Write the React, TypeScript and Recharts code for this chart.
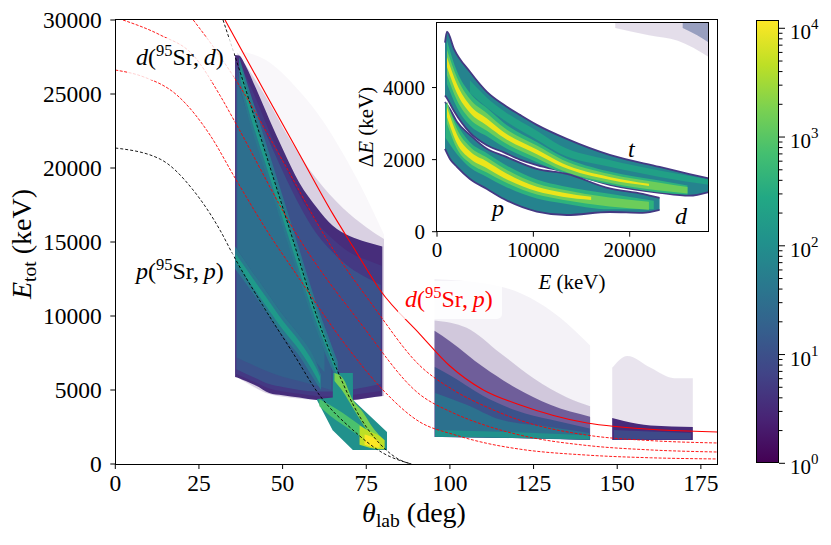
import React from 'react';
import { ComposedChart, Area, Line, XAxis, YAxis } from 'recharts';

const FONT = '"Liberation Serif", "Times New Roman", serif';

// ---------- axis ticks ----------
const thetaTicks = [0, 25, 50, 75, 100, 125, 150, 175];
const energyTicks = [0, 5000, 10000, 15000, 20000, 25000, 30000];
const insetETicks = [0, 10000, 20000];
const insetDETicks = [0, 2000, 4000];
const cbMajor = [1, 10, 100, 1000, 10000];
const cbTicks = [1, 2, 3, 4, 5, 6, 7, 8, 9, 10, 20, 30, 40, 50, 60, 70, 80, 90, 100, 200, 300, 400, 500, 600, 700, 800, 900, 1000, 2000, 3000, 4000, 5000, 6000, 7000, 8000, 9000, 10000];
const cbDomain = [1, 11920];

// ---------- main histogram regions: [theta (deg), E low (keV), E high (keV)] ----------
const wedgeFar = [[37, 5800, 27900], [45, 4800, 27300], [55, 4500, 25200], [62, 4300, 23200], [68, 4200, 21000], [74, 4400, 18500], [80.3, 4600, 15500]];
const wedgeNear = [[36.5, 5850, 27800], [40, 5400, 26600], [45, 4800, 24800], [52, 4500, 22000], [60, 4320, 19300], [68, 4200, 17300], [75, 4450, 16000], [80.3, 4600, 15200]];
const wedgeOuter = [[35.8, 5880, 27640], [37, 5800, 27600], [39, 5600, 26900], [42, 5300, 25400], [46, 4800, 23300], [50, 4650, 21300], [55, 4500, 19000], [60.3, 4320, 17300], [65, 4250, 16100], [70, 4300, 15400], [75, 4450, 15000], [79.8, 4600, 14700]];
const wedgeMid = [[36, 6100, 27200], [39, 5800, 26200], [42, 5500, 24700], [46, 5100, 22500], [50, 4900, 20500], [55, 4750, 18200], [60, 4600, 16400], [65, 4550, 15200], [70, 4650, 14300], [75, 4800, 13800], [79.6, 4950, 13400]];
const wedgeBody = [[36.2, 6400, 26900], [39, 6100, 25600], [42, 5800, 24000], [46, 5400, 21800], [50, 5200, 19800], [55, 5000, 17500], [60, 4900, 15600], [65, 4900, 14300], [70, 5000, 13300], [75, 5200, 12600], [79.3, 5400, 12100]];
const wedgeInner = [[36.3, 7200, 26300], [40, 6800, 24000], [45, 6300, 20600], [50, 5900, 17400], [55, 5600, 14100], [60, 5300, 10900], [64.5, 5000, 8100]];
const wedgeCentre = [[36.5, 14500, 25800], [40, 13300, 23300], [45, 11700, 19700], [50, 10100, 16100], [55, 8700, 12600], [60, 6900, 9200], [62.5, 6200, 7600]];
const dRidgeWide = [[37, 25700, 27500], [40, 23200, 25300], [45, 19600, 21700], [50, 16000, 18100], [55, 12500, 14500], [60, 9100, 10900], [64, 6800, 8400], [66.5, 5600, 6900]];
const dRidgeCore = [[37.5, 25900, 26900], [40, 23800, 24700], [45, 20200, 21100], [50, 16600, 17500], [55, 13050, 13950], [60, 9650, 10400], [64, 7300, 7900], [66.3, 6000, 6500]];
const pRidgeWide = [[35.8, 13200, 14700], [40, 11900, 13300], [45, 10300, 11700], [50, 8700, 10100], [55, 7300, 8700], [60, 5500, 6900], [61.5, 5000, 6000]];
const pRidgeCore = [[36, 13600, 14200], [40, 12300, 12900], [45, 10700, 11300], [50, 9100, 9700], [55, 7700, 8300], [60, 5900, 6500], [61.2, 5400, 5900]];
const tailBase = [[60.3, 4300, 4400], [65.0, 2260, 4500], [65.05, 2260, 6150], [71.0, 946, 6150], [71.05, 946, 4320], [81.2, 946, 2160]];
const tailBandP = [[61, 3900, 4400], [64, 3300, 4000], [68, 2650, 3450], [72, 2050, 2800], [76, 1450, 2150], [79, 1100, 1700]];
const tailBandD = [[65.5, 5600, 6150], [68, 4900, 5800], [71, 3800, 4320], [74, 2700, 3500], [77, 1650, 2450], [79.5, 1100, 1800]];
const tailCore = [[73, 1300, 2600], [76, 1100, 2200], [79, 1000, 1900], [80.5, 1000, 1600]];
const tailPeak = [[74.5, 1300, 2000], [77, 1150, 1800], [79, 1100, 1500]];

const backFaint = [[95.4, 1820, 12500], [115, 1780, 12000], [135, 1680, 9500], [141.9, 1620, 8000]];
const backSparse = [[95.4, 1820, 9700], [105, 1800, 9200], [115, 1760, 7500], [125, 1720, 5800], [135, 1680, 4500], [141.9, 1620, 3900]];
const backDense = [[95.4, 1820, 9000], [100, 1810, 8300], [110, 1780, 6550], [120, 1740, 5100], [130, 1690, 4000], [141.9, 1620, 3200]];
const backBody = [[95.5, 1830, 6550], [100, 1820, 6000], [110, 1790, 4600], [120, 1750, 3600], [130, 1700, 3000], [141.8, 1640, 2400]];
const backInner = [[95.6, 1840, 4800], [105, 1820, 4000], [115, 1780, 3000], [130, 1710, 2500], [141.7, 1650, 2100]];
const backBottom = [[95.6, 1840, 2300], [120, 1760, 2150], [141.7, 1650, 1950]];
const farSparse = [[148.5, 1620, 6500], [153, 1620, 7300], [160, 1620, 6500], [167, 1620, 5800], [172.6, 1620, 5800]];
const farDense = [[148.5, 1620, 3100], [152, 1620, 2900], [160, 1620, 2600], [172.6, 1620, 2500]];
const farInner = [[149, 1650, 2300], [160, 1650, 2200], [172, 1650, 2100]];

// ---------- kinematic curves: [theta (deg), E (keV)] ----------
const pElastic = [[0, 21350], [13.4, 20600], [23.3, 18500], [31.3, 15800], [35.5, 14000], [44.1, 10700], [53.1, 7500], [61.2, 4600], [71, 2300], [80, 740], [88.5, 0]];
const dElastic = [[32.2, 30000], [37.3, 26490], [45, 20950], [53.1, 15140], [60.3, 9930], [66.3, 6350], [73.1, 3180], [80, 1150], [85.1, 270], [88.5, 0]];
const dpGround = [[32.8, 30000], [45, 25000], [55, 20950], [65, 16900], [71.1, 14660], [79.1, 11760], [91, 8780], [100, 6620], [110, 5000], [121, 3990], [141, 2770], [151, 2500], [180, 2160]];
const dpExc1 = [[23.3, 30000], [30.4, 27840], [36.4, 25810], [50, 20500], [63.3, 15140], [77, 10700], [91, 6650], [101, 5000], [111, 3850], [121, 2950], [141, 1950], [160, 1580], [180, 1420]];
const dpExc2 = [[2.3, 30000], [13.4, 28990], [23.2, 27640], [31.3, 24900], [35.8, 23100], [55.2, 15140], [73, 9600], [91, 4700], [101, 3450], [111, 2580], [121, 1950], [141, 1250], [160, 950], [180, 810]];
const dpExc3 = [[0, 26620], [8.3, 26170], [18.4, 24930], [28.3, 22230], [35.8, 19320], [47.1, 15140], [52.2, 13450], [70, 7700], [80, 5000], [91, 2840], [101, 2000], [111, 1400], [121, 1000], [141, 600], [160, 420], [180, 340]];

// ---------- inset (E vs Delta E): [E (keV), dE low, dE high] ----------
const insetSparse = [[18500, 5650, 5800], [22000, 5450, 5800], [25000, 5300, 5800], [28200, 4850, 5800]];
const insetCorner = [[25500, 5650, 5800], [27000, 5450, 5800], [28200, 5250, 5800]];
const upperGroup = [[830, 3780, 5250], [1036, 3700, 5550], [1761, 3350, 5076], [3419, 2750, 4437], [5180, 2400, 3881], [6941, 2200, 3520], [8599, 2000, 3242], [10360, 1850, 2964], [13468, 1650, 2575], [17923, 1300, 2131], [23103, 1080, 1797], [26200, 1000, 1600], [28200, 1100, 1480]];
const tRidge = [[3419, 3850, 4200], [5180, 3450, 3720], [6941, 3100, 3350], [10360, 2550, 2800], [12743, 2170, 2400], [17923, 1800, 1990], [23103, 1520, 1700], [28200, 1300, 1450]];
const dMid = [[1036, 4100, 5300], [2072, 3450, 4450], [3419, 2950, 3850], [5180, 2650, 3430], [6941, 2350, 3020], [10360, 1930, 2490], [13000, 1640, 2090], [17900, 1310, 1670], [23100, 1090, 1420], [26000, 1030, 1280]];
const dGreen = [[1036, 4350, 5050], [2072, 3650, 4280], [3419, 3130, 3680], [5180, 2800, 3290], [6941, 2480, 2890], [10360, 2040, 2390], [13000, 1700, 2000], [17900, 1360, 1600], [23100, 1140, 1360], [26000, 1060, 1240]];
const dYellow = [[1036, 4570, 4850], [2072, 3840, 4090], [3419, 3300, 3510], [5180, 2950, 3140], [6941, 2610, 2760], [10360, 2150, 2280], [13000, 1800, 1900], [17900, 1440, 1520], [22000, 1270, 1330]];
const pGroup = [[829, 2300, 3600], [1347, 2020, 3400], [2072, 1800, 3050], [3419, 1464, 2686], [5180, 1186, 2300], [6941, 908, 2103], [10360, 560, 1742], [13468, 464, 1603], [17923, 547, 1200], [21342, 520, 1050], [23103, 603, 936]];
const pMid = [[900, 2600, 3600], [2072, 2150, 2980], [3419, 1780, 2480], [5180, 1520, 2180], [6941, 1270, 1880], [10360, 920, 1450], [13000, 790, 1270], [17900, 620, 1050], [22500, 620, 860]];
const pGreen = [[1036, 3000, 3620], [2072, 2300, 2850], [3419, 1900, 2360], [5180, 1640, 2060], [6941, 1390, 1760], [10360, 1030, 1340], [13000, 890, 1170], [17900, 700, 950], [22000, 610, 830]];
const pYellow = [[1036, 3180, 3460], [2072, 2450, 2700], [3419, 2030, 2230], [5180, 1760, 1950], [6941, 1490, 1660], [10360, 1120, 1250], [13000, 970, 1090], [16000, 880, 970]];

type Row = number[];
const rng = (rows: Row[]) => rows.map(([x, lo, hi]) => ({ x, r: [lo, hi] }));
const pts = (rows: Row[]) => rows.map(([x, y]) => ({ x, y }));

function band(key: string, rows: Row[], fill: string, opacity = 1, curveType = 'monotone', stroke = 'none', sw = 0) {
  return (
    <Area
      key={key}
      data={rng(rows)}
      dataKey="r"
      type={curveType as any}
      fill={fill}
      fillOpacity={opacity}
      stroke={stroke}
      strokeWidth={sw}
      dot={false}
      activeDot={false}
      isAnimationActive={false}
      legendType="none"
    />
  );
}

function curve(key: string, rows: Row[], color: string, dash?: string, width = 1) {
  return (
    <Line
      key={key}
      data={pts(rows)}
      dataKey="y"
      type="monotone"
      stroke={color}
      strokeWidth={width}
      strokeDasharray={dash}
      dot={false}
      activeDot={false}
      isAnimationActive={false}
      legendType="none"
    />
  );
}

const CbTick = (props: any) => {
  const { x, y, payload } = props;
  const v = payload.value;
  const major = cbMajor.includes(v);
  const exp = Math.round(Math.log10(v));
  return (
    <g>
      <line x1={x} x2={x + (major ? 6 : 3.5)} y1={y} y2={y} stroke="#000" strokeWidth={1} />
      {major && (
        <text x={x + 11} y={y + 11} fontSize={21} fontFamily={FONT} fill="#000">
          10<tspan dy={-10} fontSize={15}>{exp}</tspan>
        </text>
      )}
    </g>
  );
};

const W = 831;
const H = 545;

function MathLabel({ x, y, a, b, color }: any) {
  return (
    <text x={x} y={y} fontSize={24} fontFamily={FONT} fill={color}>
      <tspan fontStyle="italic">{a}</tspan>
      <tspan>(</tspan>
      <tspan fontSize={16.5} dy={-9}>95</tspan>
      <tspan dy={9}>Sr,{'\u2009'}</tspan>
      <tspan fontStyle="italic">{b}</tspan>
      <tspan>)</tspan>
    </text>
  );
}

const viridisCss = 'linear-gradient(to top, #440154 0%, #482475 10%, #414487 20%, #355f8d 30%, #2a788e 40%, #21918c 50%, #22a884 60%, #44bf70 70%, #7ad151 80%, #bddf26 90%, #fde725 100%)';

export default function App() {
  const tickStyle = { fontSize: 23.5, fontFamily: FONT, fill: '#000' };
  const insetTick = { fontSize: 21, fontFamily: FONT, fill: '#000' };
  return (
    <div style={{ position: 'absolute', left: 0, top: 0, width: W, height: H, background: '#fff' }}>
      {/* main chart */}
      <div style={{ position: 'absolute', left: 0, top: 0 }}>
        <ComposedChart width={W} height={H} margin={{ top: 20, right: 113.4, bottom: 21, left: 15.3 }}>
          <XAxis dataKey="x" type="number" domain={[0, 180]} ticks={thetaTicks} interval={0} allowDataOverflow axisLine={false}
            tickLine={{ stroke: '#000', strokeWidth: 1 }} tickSize={5} tickMargin={5} height={60} tick={tickStyle} />
          <YAxis type="number" domain={[0, 30000]} ticks={energyTicks} interval={0} allowDataOverflow axisLine={false}
            tickLine={{ stroke: '#000', strokeWidth: 1 }} tickSize={5} tickMargin={8.6} width={100} tick={tickStyle} />
          {band('wf', wedgeFar, '#482475', 0.035)}
          {band('wn', wedgeNear, '#482475', 0.18)}
          {band('wo', wedgeOuter, '#472d7b')}
          {band('wm', wedgeMid, '#443983')}
          {band('wb', wedgeBody, '#3b528b')}
          {band('wi', wedgeInner, '#335f8d')}
          {band('wc', wedgeCentre, '#2d6f8e')}
          {band('dw', dRidgeWide, '#2a788e')}
          {band('dc', dRidgeCore, '#1f9a8a')}
          {band('pw', pRidgeWide, '#2a788e')}
          {band('pc', pRidgeCore, '#1f9a8a')}
          {band('tb', tailBase, '#21918c', 1, 'linear')}
          {band('tp', tailBandP, '#4ac16d')}
          {band('td', tailBandD, '#7ad151')}
          {band('tc', tailCore, '#bddf26')}
          {band('tk', tailPeak, '#fde725')}
          {band('bf', backFaint, '#482475', 0.06)}
          {band('bs', backSparse, '#482475', 0.2)}
          {band('bd', backDense, '#46307e', 0.7)}
          {band('bb', backBody, '#3b528b')}
          {band('bi', backInner, '#2c718e')}
          {band('bo', backBottom, '#21918c')}
          {band('fs', farSparse, '#482475', 0.12)}
          {band('fd', farDense, '#472a7a')}
          {band('fi', farInner, '#3e4a89')}
          {curve('pe', pElastic, '#000', '3 2', 0.9)}
          {curve('de', dElastic, '#000', '3 2', 0.9)}
          {curve('e1', dpExc1, '#ff0000', '3 1.5', 0.9)}
          {curve('e2', dpExc2, '#ff0000', '3 1.5', 0.9)}
          {curve('e3', dpExc3, '#ff0000', '3 1.5', 0.9)}
          {curve('g0', dpGround, '#ff0000', undefined, 1.1)}
        </ComposedChart>
      </div>
      <div style={{ position: 'absolute', left: 114.7, top: 19.4, width: 603.5, height: 445.2, border: '1.2px solid #000', boxSizing: 'border-box', pointerEvents: 'none' }} />

      {/* main annotations */}
      <svg width={W} height={H} style={{ position: 'absolute', left: 0, top: 0, pointerEvents: 'none' }}>
        <text x={414} y={522} textAnchor="middle" fontSize={28} fontFamily={FONT} fill="#000">
          <tspan fontStyle="italic">θ</tspan>
          <tspan fontSize={19.6} dy={5}>lab</tspan>
          <tspan dy={-5}> (deg)</tspan>
        </text>
        <text transform="translate(31,244) rotate(-90)" textAnchor="middle" fontSize={28} fontFamily={FONT} fill="#000">
          <tspan fontStyle="italic">E</tspan>
          <tspan fontSize={19.6} dy={5}>tot</tspan>
          <tspan dy={-5}> (keV)</tspan>
        </text>
        <rect x={128} y={38} width={106} height={42} rx={5} fill="#fff" fillOpacity={0.8} />
        <MathLabel x={136} y={65} a="d" b="d" color="#000" />
        <rect x={128} y={252} width={106} height={40} rx={5} fill="#fff" fillOpacity={0.8} />
        <MathLabel x={136} y={279} a="p" b="p" color="#000" />
        <rect x={398} y={281} width={104} height={38} rx={5} fill="#fff" fillOpacity={0.8} />
        <MathLabel x={405} y={307} a="d" b="p" color="#ff0000" />
      </svg>

      {/* inset */}
      <div style={{ position: 'absolute', left: 437, top: 22.7, width: 271.7, height: 209, background: '#fff' }} />
      <div style={{ position: 'absolute', left: 380, top: 0 }}>
        <ComposedChart width={340} height={300} margin={{ top: 22.7, right: 11.3, bottom: 8.3, left: 7 }}>
          <XAxis dataKey="x" type="number" domain={[0, 28200]} ticks={insetETicks} interval={0} allowDataOverflow axisLine={false}
            tickLine={{ stroke: '#000', strokeWidth: 1 }} tickSize={5} tickMargin={5} height={60} tick={insetTick} />
          <YAxis type="number" domain={[0, 5800]} ticks={insetDETicks} interval={0} allowDataOverflow axisLine={false}
            tickLine={{ stroke: '#000', strokeWidth: 1 }} tickSize={5} tickMargin={7} width={50} tick={insetTick} />
          {band('is', insetSparse, '#482475', 0.15)}
          {band('ic', insetCorner, '#3b528b', 0.45)}
          {band('ug', upperGroup, '#25838e', 1, 'monotone', '#443983', 1.8)}
          {band('tr', tRidge, '#21a086')}
          {band('dm', dMid, '#2db27d')}
          {band('dg', dGreen, '#6ccd5a')}
          {band('dy', dYellow, '#ece51b')}
          {band('pg', pGroup, '#25838e', 1, 'monotone', '#443983', 1.8)}
          {band('pm', pMid, '#2db27d')}
          {band('pgr', pGreen, '#6ccd5a')}
          {band('py', pYellow, '#ece51b')}
        </ComposedChart>
      </div>
      <div style={{ position: 'absolute', left: 436.4, top: 22.1, width: 272.9, height: 210.2, border: '1.2px solid #000', boxSizing: 'border-box', pointerEvents: 'none' }} />
      <svg width={W} height={H} style={{ position: 'absolute', left: 0, top: 0, pointerEvents: 'none' }} fontFamily={FONT}>
        <text x={628} y={157} fontSize={24} fontStyle="italic" fill="#000">t</text>
        <text x={492} y={216} fontSize={24} fontStyle="italic" fill="#000">p</text>
        <text x={675} y={224} fontSize={24} fontStyle="italic" fill="#000">d</text>
        <text x={572} y={289} textAnchor="middle" fontSize={21} fill="#000">
          <tspan fontStyle="italic">E</tspan>
          <tspan> (keV)</tspan>
        </text>
        <text transform="translate(373,127) rotate(-90)" textAnchor="middle" fontSize={21} fill="#000">
          <tspan>Δ</tspan>
          <tspan fontStyle="italic">E</tspan>
          <tspan> (keV)</tspan>
        </text>
      </svg>

      {/* colorbar */}
      <div style={{ position: 'absolute', left: 756, top: 20, width: 23, height: 443.3, background: viridisCss, border: '1.2px solid #000', boxSizing: 'border-box' }} />
      <div style={{ position: 'absolute', left: 740, top: 0 }}>
        <ComposedChart width={91} height={545} margin={{ top: 20, right: 0, bottom: 81.7, left: 16 }}>
          <XAxis dataKey="x" type="number" domain={[0, 1]} hide />
          <YAxis orientation="right" scale="log" type="number" domain={cbDomain} ticks={cbTicks} interval={0} allowDataOverflow
            axisLine={false} tickLine={false} tickSize={0} tickMargin={0} width={52} tick={(p: any) => <CbTick {...p} />} />
        </ComposedChart>
      </div>
    </div>
  );
}
